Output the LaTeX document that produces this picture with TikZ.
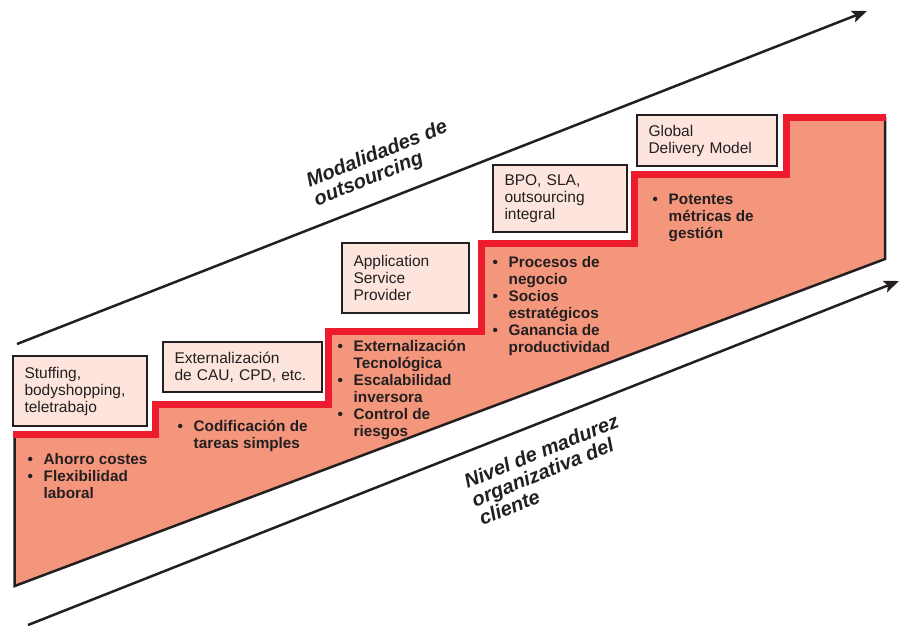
\documentclass[tikz,border=0pt]{standalone}
\usepackage{fontspec}
\setmainfont{Liberation Sans}
\usetikzlibrary{arrows.meta}
\definecolor{ink}{HTML}{231F20}
\definecolor{salmon}{HTML}{F4967C}
\definecolor{boxpink}{HTML}{FDE4DC}
\definecolor{stepred}{HTML}{EC1C2E}
\newcommand\bul{\makebox[16pt][l]{•}}
\newcommand\ind{\makebox[16pt]{}}
\begin{document}
\begin{tikzpicture}[x=1pt,y=-1pt,
  boxstyle/.style={draw=ink, line width=1.9pt, fill=boxpink, anchor=north west, outer sep=0pt,
    inner xsep=11.5pt, inner ysep=0pt, align=left, text=ink, font=\fontsize{15.5}{17}\selectfont},
  blist/.style={anchor=north west, inner sep=0pt, align=left, text=ink,
    font=\bfseries\fontsize{15.3}{17}\selectfont},
  axislabel/.style={anchor=north west, inner sep=0pt, rotate=22, align=left, text=ink,
    font=\bfseries\itshape\fontsize{20}{20}\selectfont},
  axisline/.style={draw=ink, line width=2.5pt, -{Stealth[length=15pt,width=12pt,inset=3pt]}},
  outline/.style={draw=ink, line width=2.5pt, line join=miter},
  stairline/.style={draw=stepred, line width=7pt, line join=miter}
]
\useasboundingbox (0,0) rectangle (902,625);

% stair coordinates
\coordinate (p0) at (14.7,434);
\coordinate (p1) at (155.5,434);
\coordinate (p2) at (155.5,404);
\coordinate (p3) at (328.5,404);
\coordinate (p4) at (328.5,331);
\coordinate (p5) at (481,331);
\coordinate (p6) at (481,243.5);
\coordinate (p7) at (634,243.5);
\coordinate (p8) at (634,174);
\coordinate (p9) at (786,174);
\coordinate (p10) at (786,117);
\coordinate (p11) at (885,117);
\coordinate (br) at (885,259);
\coordinate (bl) at (14.7,586);
\coordinate (r0) at (13.4,434);
\coordinate (r11) at (886.3,117);

\fill[salmon] (p0) -- (p1) -- (p2) -- (p3) -- (p4) -- (p5) -- (p6) -- (p7) -- (p8) -- (p9) -- (p10) -- (p11) -- (br) -- (bl) -- cycle;
\draw[outline] (p0) -- (bl) -- (br) -- (p11);
\draw[stairline] (r0) -- (p1) -- (p2) -- (p3) -- (p4) -- (p5) -- (p6) -- (p7) -- (p8) -- (p9) -- (p10) -- (r11);

% axes
\coordinate (a1s) at (17,344);
\coordinate (a1e) at (867,11);
\coordinate (a2s) at (28,625);
\coordinate (a2e) at (899,281);
\draw[axisline] (a1s) -- (a1e);
\draw[axisline] (a2s) -- (a2e);

% boxes
\node[boxstyle, minimum width=134pt, minimum height=70pt, text width=111pt] (box1) at (13,356)
  {Stuffing,\\bodyshopping,\\teletrabajo};
\node[boxstyle, minimum width=159pt, minimum height=50pt, text width=136pt] (box2) at (163,342)
  {Externalización\\de CAU, CPD, etc.};
\node[boxstyle, minimum width=127pt, minimum height=70pt, text width=104pt] (box3) at (342,243)
  {Application\\Service\\Provider};
\node[boxstyle, minimum width=134pt, minimum height=67pt, text width=111pt] (box4) at (493,165)
  {BPO, SLA,\\outsourcing\\integral};
\node[boxstyle, minimum width=140pt, minimum height=51pt, text width=117pt] (box5) at (637,115)
  {Global\\Delivery Model};

% bullet lists
\node[blist] (list1) at (27.5,453)
  {\bul Ahorro costes\\\bul Flexibilidad\\\ind laboral};
\node[blist] (list2) at (177.5,420)
  {\bul Codificación de\\\ind tareas simples};
\node[blist] (list3) at (337.5,340)
  {\bul Externalización\\\ind Tecnológica\\\bul Escalabilidad\\\ind inversora\\\bul Control de\\\ind riesgos};
\node[blist] (list4) at (492.5,256)
  {\bul Procesos de\\\ind negocio\\\bul Socios\\\ind estratégicos\\\bul Ganancia de\\\ind productividad};
\node[blist] (list5) at (652.5,194)
  {\bul Potentes\\\ind métricas de\\\ind gestión};

% axis labels
\node[axislabel] (lab1) at (304,174) {Modalidades de\\outsourcing};
\node[axislabel] (lab2) at (462,475) {Nivel de madurez\\organizativa del\\cliente};
\end{tikzpicture}
\end{document}
